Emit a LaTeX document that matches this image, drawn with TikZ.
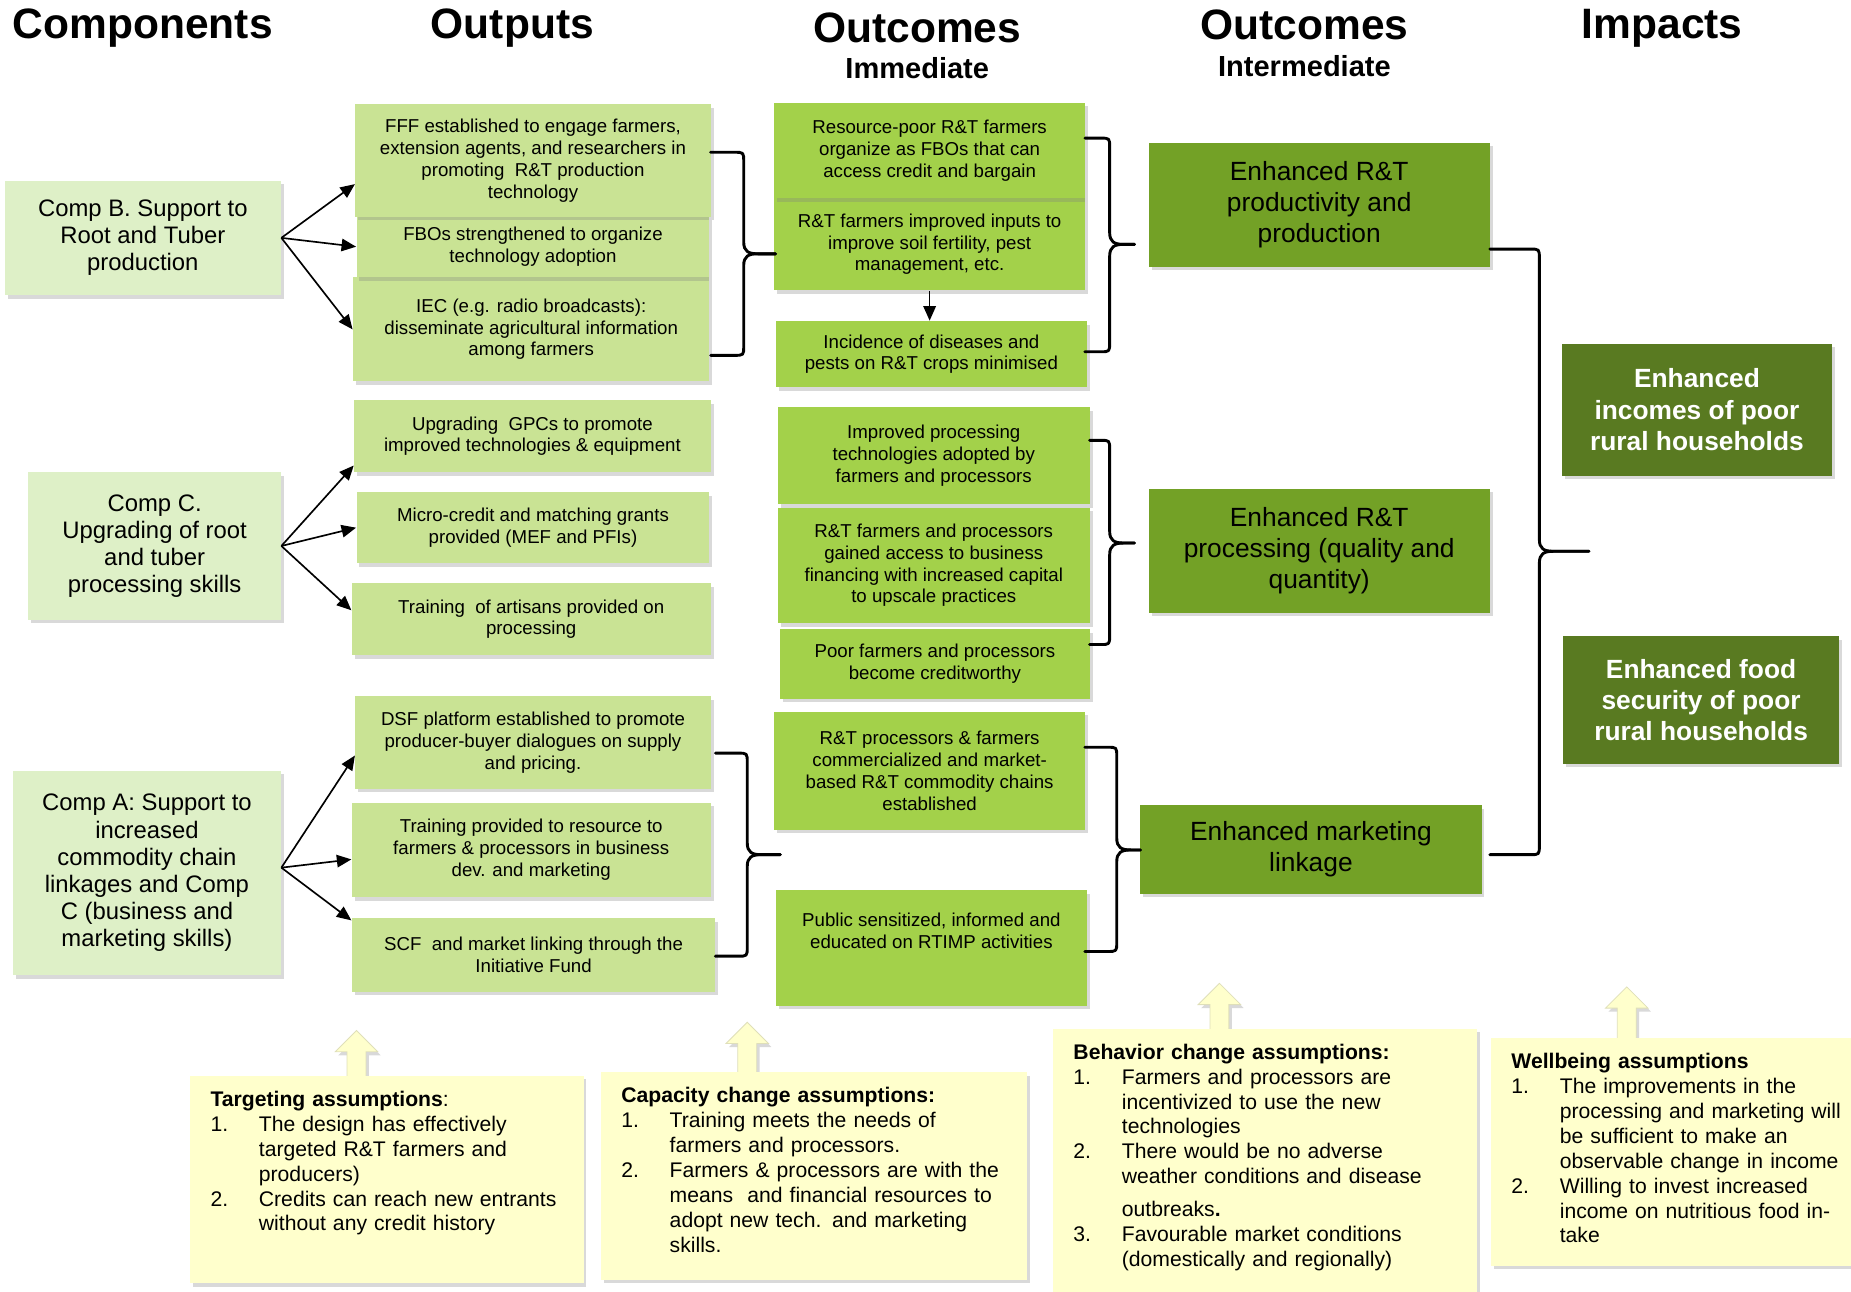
\documentclass[tikz,border=0pt]{standalone}
\usepackage{fontspec}
\setmainfont{Liberation Sans}
\usetikzlibrary{arrows.meta,shadows}
\definecolor{ddefc7}{rgb}{0.87,0.94,0.78}
\definecolor{cae393}{rgb}{0.79,0.89,0.58}
\definecolor{a3d14b}{rgb}{0.64,0.82,0.29}
\definecolor{olivea}{rgb}{0.45,0.63,0.15}
\definecolor{oliveb}{rgb}{0.35,0.48,0.13}
\definecolor{ffffcc}{rgb}{1,1,0.8}
% brace: left x, bar x, tip x, top y, tip y, bottom y
\newcommand{\brc}[6]{%
  \draw[brc] (#1,#4) -- ({#2-8},#4) .. controls (#2,#4) .. (#2,{#4+8}) -- (#2,{#5-10}) .. controls (#2,{#5-2}) and ({#2+4},#5) .. ({#2+12},#5) -- (#3,#5);
  \draw[brc] (#3,#5) -- ({#2+12},#5) .. controls ({#2+4},#5) and (#2,{#5+2}) .. (#2,{#5+10}) -- (#2,{#6-8}) .. controls (#2,#6) .. ({#2-8},#6) -- (#1,#6);}
% block arrow: x, tip y, bottom y
\newcommand{\uparr}[3]{\filldraw[uparr] (#1,#2) -- ({#1+18},{#2+18}) -- ({#1+8},{#2+18}) -- ({#1+8},#3) -- ({#1-8},#3) -- ({#1-8},{#2+18}) -- ({#1-18},{#2+18}) -- cycle;}
\newcommand{\asnum}[1]{\makebox[0.82cm][l]{#1}}
\newcommand{\asind}{\hspace*{0.82cm}}
\begin{document}
\begin{tikzpicture}[x=0.02cm,y=-0.02cm,
	>={Triangle[length=7pt,width=6pt]},
	sz/.style 2 args={minimum width=#1*0.02cm,minimum height=#2*0.02cm},
	shd/.style={drop shadow={shadow xshift=0.05cm,shadow yshift=-0.06cm,opacity=0.3}},
	head/.style={font=\bfseries\fontsize{20.5}{24}\selectfont},
	subhead/.style={font=\bfseries\fontsize{14}{16}\selectfont},
	cbox/.style={shd,fill=ddefc7,align=center,inner sep=1pt,font=\fontsize{11.5}{13.1}\selectfont},
	obox/.style={shd,fill=cae393,align=center,inner sep=1pt,font=\fontsize{9}{10.5}\selectfont},
	ibox/.style={shd,fill=a3d14b,align=center,inner sep=1pt,font=\fontsize{9}{10.5}\selectfont},
	mbox/.style={shd,fill=olivea,align=center,inner sep=1pt,font=\fontsize{12.7}{14.8}\selectfont},
	pbox/.style={shd,fill=oliveb,text=white,align=center,inner sep=1pt,font=\bfseries\fontsize{12.7}{15}\selectfont},
	abox/.style={shd,fill=ffffcc,anchor=north west,align=left,inner xsep=0.34cm,inner ysep=7.4pt,text depth=#1,font=\fontsize{10.2}{12}\selectfont},
	link/.style={->,line width=0.8pt},
	brc/.style={line width=1.4pt,line cap=round,line join=round},
	uparr/.style={shd,fill=ffffcc,draw=ffffcc!75!gray,line width=0.4pt}]
	\useasboundingbox (0,0) rectangle (1568,1094);
	% headings
	\node[head] (hComp) at (121,24) {Components};
	\node[head] (hOut) at (434,24) {Outputs};
	\node[head] (hImm) at (777,24) {Outcomes};
	\node[subhead] (hImmS) at (777,58) {Immediate};
	\node[head] (hInt) at (1105,21) {Outcomes};
	\node[subhead] (hIntS) at (1105,56) {Intermediate};
	\node[head] (hImp) at (1408,24) {Impacts};
	% components
	\node[cbox,sz={234}{97}] (compB) at (121,201.5) {Comp B. Support to\\Root and Tuber\\production};
	\node[cbox,sz={214}{125}] (compC) at (131,462.5) {Comp C.\\Upgrading of root\\and tuber\\processing skills};
	\node[cbox,sz={227}{173}] (compA) at (124.5,739.5) {Comp A: Support to\\increased\\commodity chain\\linkages and Comp\\C (business and\\marketing skills)};
	% outputs (lower ones first, so the upper shadows show)
	\node[obox,sz={302}{88}] (o3) at (450,279) {IEC (e.g. radio broadcasts):\\disseminate agricultural information\\among farmers};
	\node[obox,sz={299}{52}] (o2) at (451.5,209) {FBOs strengthened to organize\\technology adoption};
	\node[obox,sz={301}{95}] (o1) at (451.5,136) {FFF established to engage farmers,\\extension agents, and researchers in\\promoting~~R\&T production\\technology};
	\node[obox,sz={302}{61}] (o4) at (451,369.5) {Upgrading~~GPCs to promote\\improved technologies \& equipment};
	\node[obox,sz={299}{60}] (o5) at (451.5,447) {Micro-credit and matching grants\\provided (MEF and PFIs)};
	\node[obox,sz={304}{61}] (o6) at (450,524.5) {Training~~of artisans provided on\\processing};
	\node[obox,sz={301}{78}] (o7) at (451.5,629) {DSF platform established to promote\\producer-buyer dialogues on supply\\and pricing.};
	\node[obox,sz={304}{80}] (o8) at (450,720) {Training provided to resource to\\farmers \& processors in business\\dev. and marketing};
	\node[obox,sz={308}{62}] (o9) at (452,809) {SCF~~and market linking through the\\Initiative Fund};
	% immediate outcomes
	\node[ibox,sz={263}{78}] (i2) at (787.5,207) {R\&T farmers improved inputs to\\improve soil fertility, pest\\management, etc.};
	\node[ibox,sz={263}{81}] (i1) at (787.5,127.5) {Resource-poor R\&T farmers\\organize as FBOs that can\\access credit and bargain};
	\node[ibox,sz={264}{56}] (i3) at (789,300) {Incidence of diseases and\\pests on R\&T crops minimised};
	\node[ibox,sz={262}{59}] (i6) at (792,562.5) {Poor farmers and processors\\become creditworthy};
	\node[ibox,sz={264}{98}] (i5) at (791,479) {R\&T farmers and processors\\gained access to business\\financing with increased capital\\to upscale practices};
	\node[ibox,sz={264}{82}] (i4) at (791,386) {Improved processing\\technologies adopted by\\farmers and processors};
	\node[ibox,sz={263}{100}] (i7) at (787.5,653) {R\&T processors \& farmers\\commercialized and market-\\based R\&T commodity chains\\established};
	\node[ibox,sz={264}{98}] (i8) at (789,803) {Public sensitized, informed and\\educated on RTIMP activities\\[6pt] \mbox{}};
	% intermediate outcomes
	\node[mbox,sz={289}{105}] (m1) at (1117.5,173.5) {Enhanced R\&T\\productivity and\\production};
	\node[mbox,sz={289}{105}] (m2) at (1117.5,466.5) {Enhanced R\&T\\processing (quality and\\quantity)};
	\node[mbox,sz={289}{75}] (m3) at (1110.5,719.5) {Enhanced marketing\\linkage};
	% impacts
	\node[pbox,sz={229}{112}] (p1) at (1437.5,347) {Enhanced\\incomes of poor\\rural households};
	\node[pbox,sz={234}{108}] (p2) at (1441,593) {Enhanced food\\security of poor\\rural households};
	% arrows
	\draw[link] (compB.east) -- ([yshift=-0.4cm]o1.west);
	\draw[link] (compB.east) -- (o2.west);
	\draw[link] (compB.east) -- (o3.west);
	\draw[link] (compC.east) -- ([yshift=0.12cm]o4.south west);
	\draw[link] (compC.east) -- (o5.west);
	\draw[link] (compC.east) -- ([yshift=0.15cm]o6.west);
	\draw[link] ([yshift=0.09cm]compA.east) -- ([yshift=-0.22cm]o7.west);
	\draw[link] ([yshift=0.09cm]compA.east) -- ([yshift=-0.16cm]o8.west);
	\draw[link] ([yshift=0.09cm]compA.east) -- ([yshift=-0.04cm]o9.north west);
	\draw[link] (i2.south) -- (i2.south |- i3.north);
	% braces
	\brc{602}{630}{657}{129}{215}{301}
	\brc{606}{633}{661}{638}{724}{810}
	\brc{919}{940}{961}{117}{207}{298}
	\brc{923}{940}{961}{373}{460}{546}
	\brc{919}{946}{966}{633}{720}{806}
	\brc{1262}{1304}{1346}{211}{467}{724}
	% assumptions
	\uparr{302}{873}{913}
	\uparr{633}{866}{910}
	\uparr{1033}{833}{873}
	\uparr{1378}{836}{881}
	\node[abox=77.9pt,text width=5.98cm] (a1) at (161,911) {\textbf{Targeting assumptions}:\\
		\asnum{1.}The design has effectively\\
		\asind targeted R\&T farmers and\\
		\asind producers)\\
		\asnum{2.}Credits can reach new entrants\\
		\asind without any credit history};
	\node[abox=77.9pt,text width=6.54cm] (a2) at (509,908) {\textbf{Capacity change assumptions:}\\
		\asnum{1.}Training meets the needs of\\
		\asind farmers and processors.\\
		\asnum{2.}Farmers \& processors are with the\\
		\asind means~~and financial resources to\\
		\asind adopt new tech. and marketing\\
		\asind skills.};
	\node[abox=105.8pt,text width=6.5cm] (a3) at (892,871) {\textbf{Behavior change assumptions:}\\
		\asnum{1.}Farmers and processors are\\
		\asind incentivized to use the new\\
		\asind technologies\\
		\asnum{2.}There would be no adverse\\
		\asind weather conditions and disease\\[4pt]
		\asind outbreaks\textbf{.}\\
		\asnum{3.}Favourable market conditions\\
		\asind (domestically and regionally)};
	\node[abox=87.6pt,text width=5.92cm] (a4) at (1263,879) {\textbf{Wellbeing assumptions}\\
		\asnum{1.}The improvements in the\\
		\asind processing and marketing will\\
		\asind be sufficient to make an\\
		\asind observable change in income\\
		\asnum{2.}Willing to invest increased\\
		\asind income on nutritious food in-\\
		\asind take};
\end{tikzpicture}
\end{document}
